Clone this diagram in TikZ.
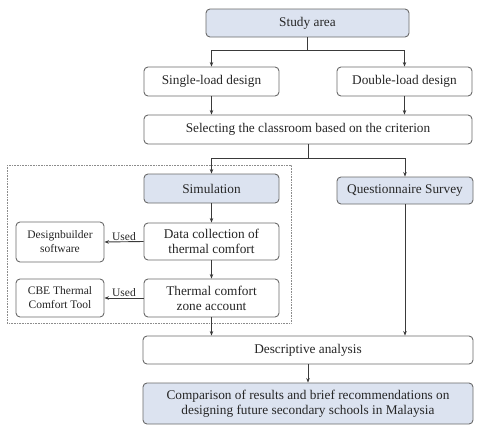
\documentclass[tikz,border=0pt]{standalone}
\usepackage{fontspec}
\setmainfont{Liberation Serif}
\usetikzlibrary{arrows.meta,calc}
\definecolor{bfill}{HTML}{DCE3F0}
\definecolor{bdraw}{HTML}{6A6A6A}
\definecolor{lcol}{HTML}{3A3A3A}
\tikzset{
  box/.style={draw=bdraw, line width=0.9pt, rounded corners=4pt, fill=white, align=center, inner sep=1pt, font=\fontsize{13.3}{15}\selectfont, text=black!85},
  bluebox/.style={box, fill=bfill},
  smallbox/.style={box, font=\fontsize{11.5}{14}\selectfont},
  conn/.style={draw=lcol, line width=0.9pt},
  arr/.style={conn, -{Stealth[length=4.5pt,width=3.5pt]}},
  usedlbl/.style={font=\fontsize{11.5}{13}\selectfont, text=black!85, inner sep=1pt},
}
\begin{document}
\begin{tikzpicture}[x=1pt,y=-1pt]
\useasboundingbox (0,0) rectangle (480,437);
% dashed area
\draw[black!45, densely dotted, line width=0.6pt] (7,165) rectangle (291,323);
% nodes
\node[bluebox, minimum width=203pt, minimum height=28pt] (study) at (307.5,23) {Study area};
\node[box, minimum width=135pt, minimum height=29pt] (single) at (211.5,81.5) {Single-load design};
\node[box, minimum width=135pt, minimum height=29pt] (double) at (404.5,81.5) {Double-load design};
\node[box, minimum width=328pt, minimum height=29pt] (select) at (308,129.5) {Selecting the classroom based on the criterion};
\node[bluebox, minimum width=135pt, minimum height=29pt] (sim) at (211.5,188.5) {Simulation};
\node[bluebox, minimum width=136pt, minimum height=27pt] (quest) at (405,190.5) {Questionnaire Survey};
\node[box, minimum width=135pt, minimum height=37pt] (data) at (211.5,241.5) {Data collection of\\thermal comfort};
\node[smallbox, minimum width=88pt, minimum height=40pt] (dbs) at (60,242) {Designbuilder\\software};
\node[box, minimum width=135pt, minimum height=38pt] (tcz) at (211.5,298) {Thermal comfort\\zone account};
\node[smallbox, minimum width=88pt, minimum height=38pt] (cbe) at (60,298) {CBE Thermal\\Comfort Tool};
\node[box, minimum width=330pt, minimum height=28pt] (desc) at (308,350) {Descriptive analysis};
\node[bluebox, minimum width=330pt, minimum height=41pt] (comp) at (308,403.5) {Comparison of results and brief recommendations on\\designing future secondary schools in Malaysia};
% connectors
\draw[conn] (study.south) -- ++(0,13) coordinate (j1);
\draw[arr] (j1) -| (single.north);
\draw[arr] (j1) -| (double.north);
\draw[arr] (single.south) -- (single.south |- select.north);
\draw[arr] (double.south) -- (double.south |- select.north);
\draw[conn] (select.south) -- ++(0,14) coordinate (j2);
\draw[arr] (j2) -| (sim.north);
\draw[arr] (j2) -| (quest.north);
\draw[arr] (sim.south) -- (data.north);
\draw[arr] (data.south) -- (tcz.north);
\draw[arr] (data.west) -- node[usedlbl, above] {Used} (dbs.east);
\draw[arr] (tcz.west) -- node[usedlbl, above] {Used} (cbe.east);
\draw[arr] (tcz.south) -- (tcz.south |- desc.north);
\draw[arr] (quest.south) -- (quest.south |- desc.north);
\draw[arr] (desc.south) -- (comp.north);
\end{tikzpicture}
\end{document}
